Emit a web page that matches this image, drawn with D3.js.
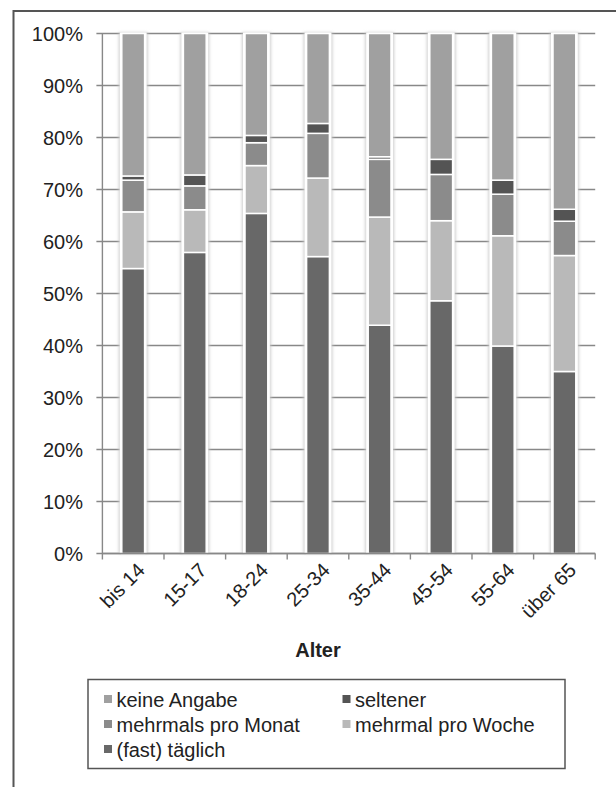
<!DOCTYPE html>
<html>
<head>
<meta charset="utf-8">
<script src="https://cdn.jsdelivr.net/npm/d3@7"></script>
<style>
  html, body { margin: 0; padding: 0; background: #ffffff; }
  svg { display: block; }
  text { font-family: "Liberation Sans", Arial, sans-serif; fill: #222; }
</style>
</head>
<body>
<svg id="chart" width="616" height="787"></svg>
<script>
// ---- data (percent) ----
const categories = ["bis 14", "15-17", "18-24", "25-34", "35-44", "45-54", "55-64", "über 65"];
const taeglich    = [54.8, 57.9, 65.4, 57.1, 43.9, 48.6, 39.9, 35.0];
const proWoche    = [10.9,  8.2,  9.2, 15.1, 20.8, 15.4, 21.2, 22.3];
const proMonat    = [ 6.1,  4.6,  4.4,  8.6, 11.1,  8.9,  8.0,  6.6];
const seltener    = [ 0.8,  2.1,  1.4,  1.9,  0.5,  2.9,  2.7,  2.3];
const keineAngabe = [27.4, 27.2, 19.6, 17.3, 23.7, 24.2, 28.2, 33.8];
const seriesNames = ["(fast) täglich", "mehrmal pro Woche", "mehrmals pro Monat", "seltener", "keine Angabe"];
const seriesColors = ["#686868", "#b9b9b9", "#8b8b8b", "#545454", "#a0a0a0"];
const yTicks = [0, 10, 20, 30, 40, 50, 60, 70, 80, 90, 100];
const xTitle = "Alter";

(function () {
const seriesValues = [taeglich, proWoche, proMonat, seltener, keineAngabe];
const rows = categories.map((c, i) => {
  const r = { cat: c };
  seriesNames.forEach((s, k) => r[s] = seriesValues[k][i]);
  return r;
});
const stacked = d3.stack().keys(seriesNames)(rows);

const svg = d3.select("#chart");

// outer frame (cropped at right/bottom)
svg.append("path")
  .attr("d", "M13.5,787 L13.5,11 L616,11")
  .attr("fill", "none").attr("stroke", "#555").attr("stroke-width", 2);

const pLeft = 102.4, pRight = 595.2, pTop = 33.5, pBottom = 553.5;
const x = d3.scaleBand().domain(categories).range([pLeft, pRight]).paddingInner(0.63).paddingOuter(0.315);
const y = d3.scaleLinear().domain([0, 100]).range([pBottom, pTop]);

const defs = svg.append("defs");
defs.append("filter").attr("id", "glow").attr("x", "-50%").attr("y", "-5%").attr("width", "200%").attr("height", "110%")
  .append("feGaussianBlur").attr("stdDeviation", 1.6);

// gridlines (with tick stubs to the left)
svg.append("g").selectAll("line").data(yTicks).join("line")
  .attr("x1", pLeft - 6).attr("x2", pRight)
  .attr("y1", d => y(d)).attr("y2", d => y(d))
  .attr("stroke", "#888").attr("stroke-width", 1.4);

// y axis line
svg.append("line").attr("x1", pLeft).attr("x2", pLeft).attr("y1", pTop).attr("y2", pBottom)
  .attr("stroke", "#888").attr("stroke-width", 1.4);

// y tick labels
svg.append("g").selectAll("text").data(yTicks).join("text")
  .attr("x", 83).attr("y", d => y(d)).attr("dy", "0.36em")
  .attr("text-anchor", "end").attr("font-size", 20)
  .text(d => d + "%");

// bar halos
const halo = svg.append("g");
categories.forEach(c => {
  halo.append("rect")
    .attr("x", x(c) - 3).attr("width", x.bandwidth() + 6)
    .attr("y", y(100) - 1).attr("height", y(0) - y(100) + 1)
    .attr("fill", "#cccccc").attr("filter", "url(#glow)");
  halo.append("rect")
    .attr("x", x(c) - 2).attr("width", x.bandwidth() + 4)
    .attr("y", y(100) - 1).attr("height", y(0) - y(100) + 1)
    .attr("fill", "#ffffff");
});

// bars
svg.append("g").selectAll("g").data(stacked).join("g")
  .attr("fill", (d, i) => seriesColors[i])
  .selectAll("rect").data(d => d).join("rect")
  .attr("x", d => x(d.data.cat))
  .attr("width", x.bandwidth())
  .attr("y", d => y(d[1]))
  .attr("height", d => Math.max(0, y(d[0]) - y(d[1])))
  .attr("stroke", "#ffffff").attr("stroke-width", 1.5);

// x axis line + ticks
svg.append("line").attr("x1", pLeft).attr("x2", pRight).attr("y1", pBottom).attr("y2", pBottom)
  .attr("stroke", "#888").attr("stroke-width", 1.4);
const step = x.step();
svg.append("g").selectAll("line").data(d3.range(categories.length + 1)).join("line")
  .attr("x1", i => pLeft + i * step).attr("x2", i => pLeft + i * step)
  .attr("y1", pBottom).attr("y2", pBottom + 6)
  .attr("stroke", "#888").attr("stroke-width", 1.4);

// x tick labels rotated
svg.append("g").selectAll("text").data(categories).join("text")
  .attr("transform", c => `translate(${x(c) + x.bandwidth() / 2 + 13},${pBottom + 18}) rotate(-45)`)
  .attr("text-anchor", "end").attr("font-size", 20)
  .text(c => c);

// x title
svg.append("text").attr("x", 318).attr("y", 657).attr("text-anchor", "middle")
  .attr("font-size", 20).attr("font-weight", "bold").text(xTitle);

// legend
const lg = svg.append("g");
lg.append("rect").attr("x", 88).attr("y", 679.5).attr("width", 477).attr("height", 89)
  .attr("fill", "#fff").attr("stroke", "#555").attr("stroke-width", 1.5);
const legendOrder = [
  { name: "keine Angabe", col: 0, row: 0 },
  { name: "seltener", col: 1, row: 0 },
  { name: "mehrmals pro Monat", col: 0, row: 1 },
  { name: "mehrmal pro Woche", col: 1, row: 1 },
  { name: "(fast) täglich", col: 0, row: 2 }
];
const colX = [104, 342.5];
legendOrder.forEach(it => {
  const k = seriesNames.indexOf(it.name);
  const by = 707 + it.row * 25;
  lg.append("rect").attr("x", colX[it.col]).attr("y", by - 12).attr("width", 8).attr("height", 8)
    .attr("fill", seriesColors[k]);
  lg.append("text").attr("x", colX[it.col] + 12.5).attr("y", by).attr("font-size", 20).text(it.name);
});
})();
</script>
</body>
</html>
